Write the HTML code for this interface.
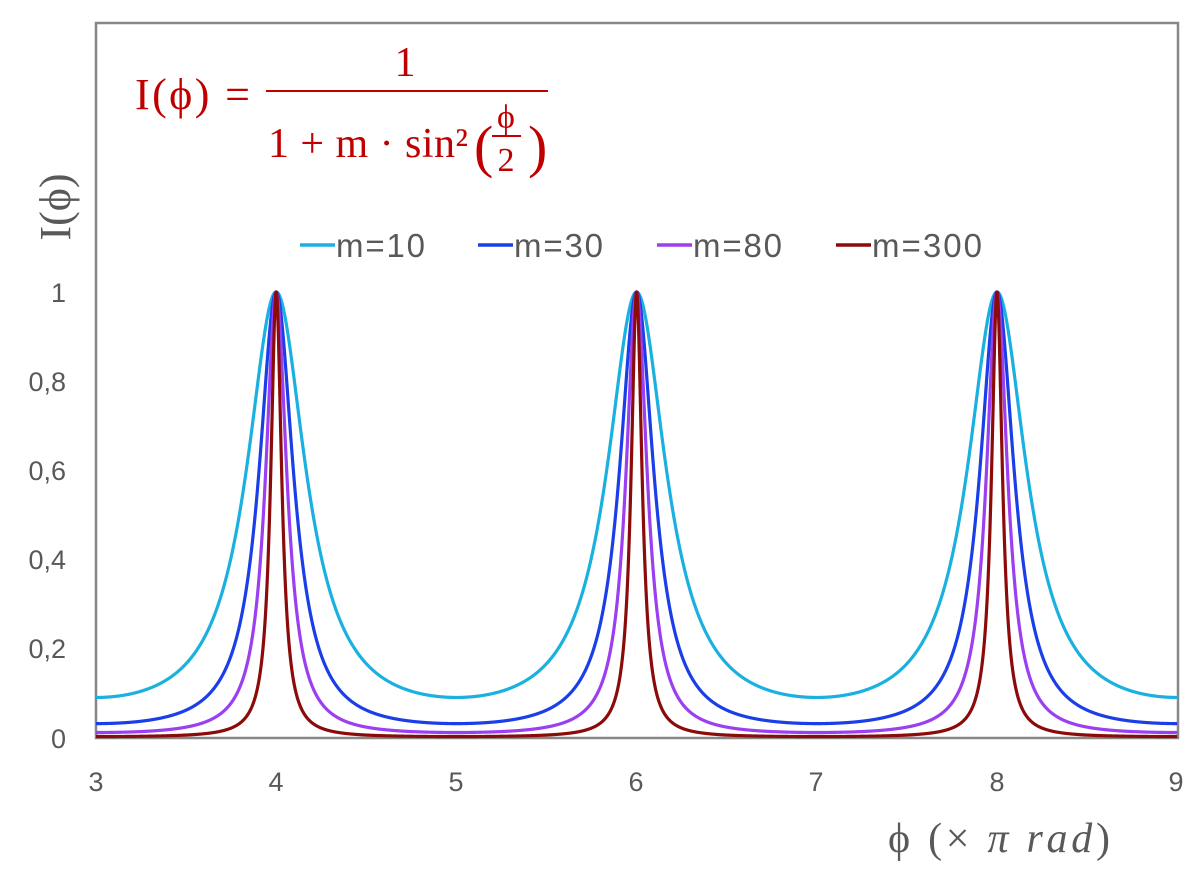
<!DOCTYPE html>
<html><head><meta charset="utf-8"><style>
body{margin:0;background:#fff;width:1200px;height:880px;overflow:hidden}
svg{display:block}
</style></head><body>
<svg id="s" width="1200" height="880" xmlns="http://www.w3.org/2000/svg">
<rect x="96" y="23" width="1082" height="715" fill="none" stroke="#878787" stroke-width="2.5"/>
<g id="curves" fill="none" stroke-width="3.2" stroke-linejoin="round"></g>
<g font-family="Liberation Serif, DejaVu Serif, serif" fill="#c00000">
<text x="135" y="109" font-size="44" textLength="115">I(ϕ) =</text>
<text x="405" y="76" font-size="42" text-anchor="middle">1</text>
<line x1="266" y1="91" x2="548" y2="91" stroke="#c00000" stroke-width="2"/>
<text x="268" y="157" font-size="42" textLength="200">1 + m · sin²</text>
<text x="474" y="166" font-size="58">(</text>
<text x="528" y="166" font-size="58">)</text>
<text x="506" y="128" font-size="34" text-anchor="middle">ϕ</text>
<line x1="492" y1="136" x2="521" y2="136" stroke="#c00000" stroke-width="2"/>
<text x="506" y="171" font-size="34" text-anchor="middle">2</text>
</g>
<text transform="translate(70,207) rotate(-90)" font-family="Liberation Serif, DejaVu Serif, serif" font-size="44" fill="#595959" text-anchor="middle">I(ϕ)</text>
<g font-family="Liberation Sans, sans-serif" font-size="33" fill="#595959">
<line x1="300" y1="245" x2="335" y2="245" stroke="#1ab0e0" stroke-width="3.5"/><text x="336" y="257" textLength="89">m=10</text>
<line x1="478" y1="245" x2="513" y2="245" stroke="#1a3ee8" stroke-width="3.5"/><text x="514" y="257" textLength="89">m=30</text>
<line x1="657" y1="245" x2="692" y2="245" stroke="#9b3ff0" stroke-width="3.5"/><text x="693" y="257" textLength="89">m=80</text>
<line x1="836" y1="245" x2="871" y2="245" stroke="#8b0a0a" stroke-width="3.5"/><text x="872" y="257" textLength="110">m=300</text>
</g>
<g font-family="Liberation Sans, sans-serif" font-size="27" fill="#595959" text-anchor="end">
<text x="66" y="302">1</text><text x="66" y="391">0,8</text><text x="66" y="480">0,6</text>
<text x="66" y="569">0,4</text><text x="66" y="658">0,2</text><text x="66" y="748">0</text>
</g>
<g font-family="Liberation Sans, sans-serif" font-size="27" fill="#595959" text-anchor="middle">
<text x="96" y="791">3</text><text x="276" y="791">4</text><text x="456" y="791">5</text><text x="636" y="791">6</text>
<text x="816" y="791">7</text><text x="997" y="791">8</text><text x="1176" y="791">9</text>
</g>
<text x="888" y="852" font-family="Liberation Serif, DejaVu Serif, serif" font-size="42" fill="#595959" textLength="222">ϕ  (× <tspan font-style="italic">π rad</tspan>)</text>
</svg>
<script>
var ms=[[10,"#1ab0e0"],[30,"#1a3ee8"],[80,"#9b3ff0"],[300,"#8b0a0a"]];
var g=document.getElementById("curves");
ms.forEach(function(p){
 var d="";
 for(var i=0;i<=6000;i++){
  var ph=3+6*i/6000;
  var s=Math.sin(ph*Math.PI/2);
  var I=1/(1+p[0]*s*s);
  var x=96+(ph-3)*180.2, y=738-I*446;
  d+=(i?"L":"M")+x.toFixed(2)+" "+y.toFixed(2);
 }
 var e=document.createElementNS("http://www.w3.org/2000/svg","path");
 e.setAttribute("d",d);e.setAttribute("stroke",p[1]);g.appendChild(e);
});
</script>
</body></html>
